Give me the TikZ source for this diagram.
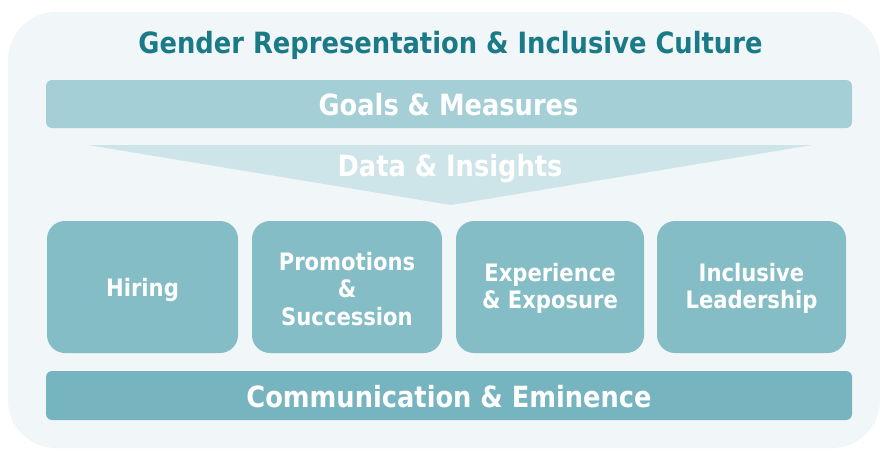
\documentclass[tikz,border=0pt]{standalone}
\usepackage{fontspec}
\setmainfont{DejaVu Sans}[FakeStretch=0.88]
\definecolor{bgc}{HTML}{F1F6F9}
\definecolor{goalc}{HTML}{A5CFD6}
\definecolor{datac}{HTML}{CDE4E8}
\definecolor{boxc}{HTML}{84BDC6}
\definecolor{commc}{HTML}{76B5C0}
\definecolor{titlec}{HTML}{1A7A87}
\tikzset{
  pillar/.style={fill=boxc, draw=none, rounded corners=18pt},
  lbl/.style={text=white, font=\bfseries\fontsize{29.2}{33}\selectfont, align=center, inner sep=0pt},
  plbl/.style={text=white, font=\bfseries\fontsize{24}{27.5}\selectfont, align=center, inner sep=0pt},
}
\begin{document}
\begin{tikzpicture}[x=1pt,y=-1pt]
\useasboundingbox (0,0) rectangle (880,450);
\fill[white] (0,0) rectangle (880,450);
\fill[bgc, rounded corners=48pt] (8,12) rectangle (880,448);
\node[text=titlec, font=\bfseries\fontsize{29.3}{33}\selectfont, inner sep=0pt] (title) at (450.5,45) {Gender Representation \& Inclusive Culture};
\fill[goalc, rounded corners=6pt] (46,80) rectangle (852,128);
\node[lbl] (goals) at (448.5,105) {Goals \& Measures};
\fill[datac] (88,145) -- (812,145) -- (451,205) -- cycle;
\node[lbl] (data) at (450,168.5) {Data \& Insights};
\fill[pillar] (47,221) rectangle (238,353);
\fill[pillar] (252,221) rectangle (442,353);
\fill[pillar] (456,221) rectangle (644,353);
\fill[pillar] (657,221) rectangle (846,353);
\node[plbl] (hiring) at (142.5,290) {Hiring};
\node[plbl] (promo) at (347,289) {Promotions\\\&\\Succession};
\node[plbl] (exp) at (550,288.5) {Experience\\\& Exposure};
\node[plbl] (incl) at (751.5,288.5) {Inclusive\\Leadership};
\fill[commc, rounded corners=6pt] (46,371) rectangle (852,420);
\node[lbl] (comm) at (449,397) {Communication \& Eminence};
\end{tikzpicture}
\end{document}
